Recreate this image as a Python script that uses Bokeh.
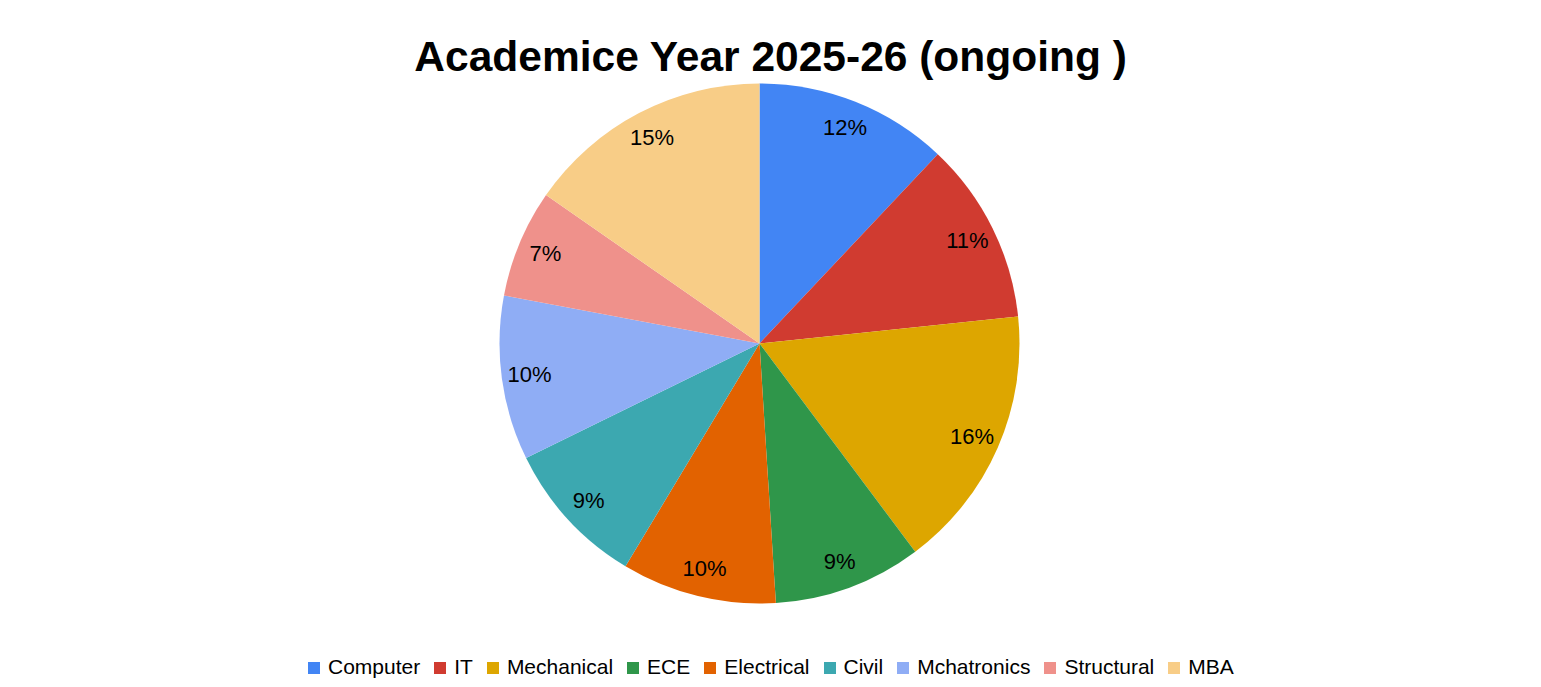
import numpy as np
from bokeh.plotting import figure
from bokeh.models import ColumnDataSource, Range1d, Legend, LegendItem
from bokeh.core.properties import value
from bokeh.embed import file_html
from bokeh.resources import INLINE

# students per department
departments = ["Computer", "IT", "Mechanical", "ECE", "Electrical",
               "Civil", "Mchatronics", "Structural", "MBA"]
students = [120, 113, 164, 92, 96, 91, 102, 67, 153]
colors = ["#4285F4", "#D03B30", "#DDA600", "#2F964A", "#E26200",
          "#3CA8B0", "#8FADF5", "#EF918B", "#F8CD87"]

FONT = "Liberation Sans"
W, H, TOP = 1541, 687, 79
cx, cy, r = 759, 344, 260

share = np.array(students) / sum(students)
cum = np.concatenate([[0], np.cumsum(share)])
start = np.pi / 2 - cum[:-1] * 2 * np.pi
end = np.pi / 2 - cum[1:] * 2 * np.pi
mid = (start + end) / 2

source = ColumnDataSource(dict(
    dept=departments,
    students=students,
    color=colors,
    start=start,
    end=end,
    lx=cx + 232 * np.cos(mid),
    ly=cy + 232 * np.sin(mid),
    label=["%d%%" % round(s * 100) for s in share],
))

p = figure(
    frame_width=W, frame_height=H - TOP,
    x_range=Range1d(0, W), y_range=Range1d(0, H - TOP),
    output_backend="svg", toolbar_location=None,
    min_border_left=0, min_border_right=0, min_border_bottom=0, min_border_top=TOP,
    title="Academice Year 2025-26 (ongoing )",
)
p.axis.visible = False
p.grid.visible = False
p.outline_line_color = None
p.background_fill_color = "white"

p.title.align = "center"
p.title.text_font = FONT
p.title.text_font_size = "42.5px"
p.title.text_font_style = "bold"
p.title.text_color = "#000000"
p.title.standoff = -1

wedges = p.wedge(x=cx, y=cy, radius=r, start_angle="start", end_angle="end",
                 direction="clock", fill_color="color", line_color=None,
                 source=source)

p.text(x="lx", y="ly", text="label", source=source,
       text_font=value(FONT), text_font_size="22px", text_color="#000000",
       text_align="center", text_baseline="middle")

items = [LegendItem(label=d, renderers=[wedges], index=i)
         for i, d in enumerate(departments)]
legend = Legend(items=items, orientation="horizontal", location=(306, 8),
                glyph_width=15, glyph_height=15, label_standoff=7, spacing=12,
                label_width=0, padding=0, margin=0, border_line_color=None,
                background_fill_alpha=0,
                label_text_font=FONT, label_text_font_size="21px",
                label_text_color="#000000")
p.add_layout(legend, "center")

open("out.html", "w").write(file_html(p, INLINE))
